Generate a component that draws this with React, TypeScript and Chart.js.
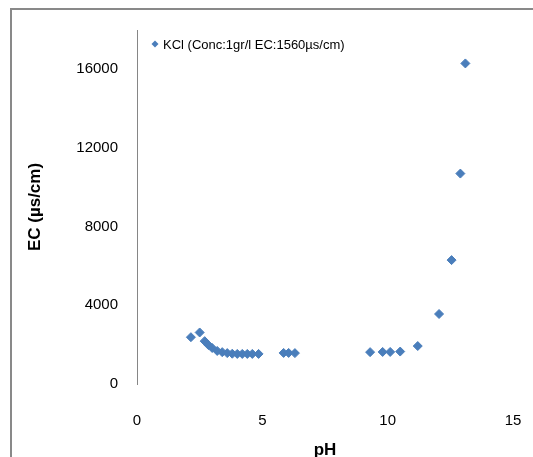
import React, { useEffect, useRef } from 'react';
import { Chart, registerables, Plugin } from 'chart.js';

Chart.register(...registerables);

// pH readings and matching conductivity (µs/cm)
const phValues = [
  2.15, 2.5, 2.7, 2.85, 3.0, 3.2, 3.4, 3.6, 3.8, 4.0, 4.2, 4.4, 4.6, 4.85,
  5.85, 6.05, 6.3, 9.3, 9.8, 10.1, 10.5, 11.2, 12.05, 12.55, 12.9, 13.1,
];
const ecValues = [
  2380, 2620, 2180, 1980, 1830, 1680, 1620, 1570, 1540, 1530, 1530, 1530, 1530, 1530,
  1580, 1580, 1570, 1620, 1630, 1630, 1650, 1930, 3560, 6300, 10700, 16300,
];
const seriesLabel = 'KCl (Conc:1gr/l EC:1560µs/cm)';
const yTicks = [0, 4000, 8000, 12000, 16000];
const xTicks = [0, 5, 10, 15];

const markerColor = '#4a7ebb';
const fontFamily = '"Liberation Sans", Arial, sans-serif';

// legend drawn inside the plot area, top-left, like the Excel original
const insideLegend: Plugin<'scatter'> = {
  id: 'insideLegend',
  afterDraw(chart) {
    const { ctx, chartArea } = chart;
    const cx = chartArea.left + 18;
    const cy = chartArea.top + 14;
    const r = 3.5;
    ctx.save();
    ctx.fillStyle = markerColor;
    ctx.beginPath();
    ctx.moveTo(cx, cy - r);
    ctx.lineTo(cx + r, cy);
    ctx.lineTo(cx, cy + r);
    ctx.lineTo(cx - r, cy);
    ctx.closePath();
    ctx.fill();
    ctx.fillStyle = '#000';
    ctx.font = `13px ${fontFamily}`;
    ctx.textBaseline = 'middle';
    ctx.fillText(seriesLabel, cx + 8, cy + 1);
    ctx.restore();
  },
};

export default function App() {
  const canvasRef = useRef<HTMLCanvasElement | null>(null);

  useEffect(() => {
    if (!canvasRef.current) return;
    const points = phValues.map((x, i) => ({ x, y: ecValues[i] }));

    const chart = new Chart(canvasRef.current, {
      type: 'scatter',
      data: {
        datasets: [{
          label: seriesLabel,
          data: points,
          pointStyle: 'rectRot',
          pointRadius: 4.5,
          pointBackgroundColor: markerColor,
          pointBorderColor: markerColor,
          pointBorderWidth: 1,
        }],
      },
      options: {
        responsive: false,
        animation: false,
        layout: { padding: { left: 21, top: 30, right: 20, bottom: 0 } },
        plugins: {
          legend: { display: false },
          tooltip: { enabled: false },
        },
        scales: {
          x: {
            type: 'linear',
            min: 0,
            max: 15,
            afterBuildTicks: (s) => { s.ticks = xTicks.map((value) => ({ value })); },
            afterFit: (s) => {
              s.height = 73;
              // tick padding would otherwise eat into the right side
              s.paddingLeft = 0;
              s.paddingRight = 0;
            },
            grid: { display: false, drawTicks: false },
            border: { display: false },
            ticks: {
              padding: 28,
              color: '#000',
              font: { family: fontFamily, size: 15 },
              callback: (v) => String(v),
            },
            title: {
              display: true,
              text: 'pH',
              color: '#000',
              padding: { top: 0, bottom: -4 },
              font: { family: fontFamily, size: 17, weight: 'bold' },
            },
          },
          y: {
            type: 'linear',
            min: 0,
            max: 18000,
            afterBuildTicks: (s) => { s.ticks = yTicks.map((value) => ({ value })); },
            afterFit: (s) => { s.width = 116; },
            grid: { display: false, drawTicks: false },
            border: { display: true, color: '#868686', width: 1 },
            ticks: {
              padding: 19,
              color: '#000',
              font: { family: fontFamily, size: 15 },
              callback: (v) => String(v),
            },
            title: {
              display: true,
              text: 'EC (µs/cm)',
              color: '#000',
              font: { family: fontFamily, size: 17, weight: 'bold' },
            },
          },
        },
      },
      plugins: [insideLegend],
    });

    return () => chart.destroy();
  }, []);

  return (
    <div style={{ position: 'absolute', left: 0, top: 0, width: 533, height: 457, background: '#fff' }}>
      <canvas ref={canvasRef} width={533} height={457} />
      <div
        style={{
          position: 'absolute',
          left: 10,
          top: 8,
          right: 0,
          bottom: 0,
          borderTop: '2px solid #898989',
          borderLeft: '2px solid #898989',
          pointerEvents: 'none',
        }}
      />
    </div>
  );
}
